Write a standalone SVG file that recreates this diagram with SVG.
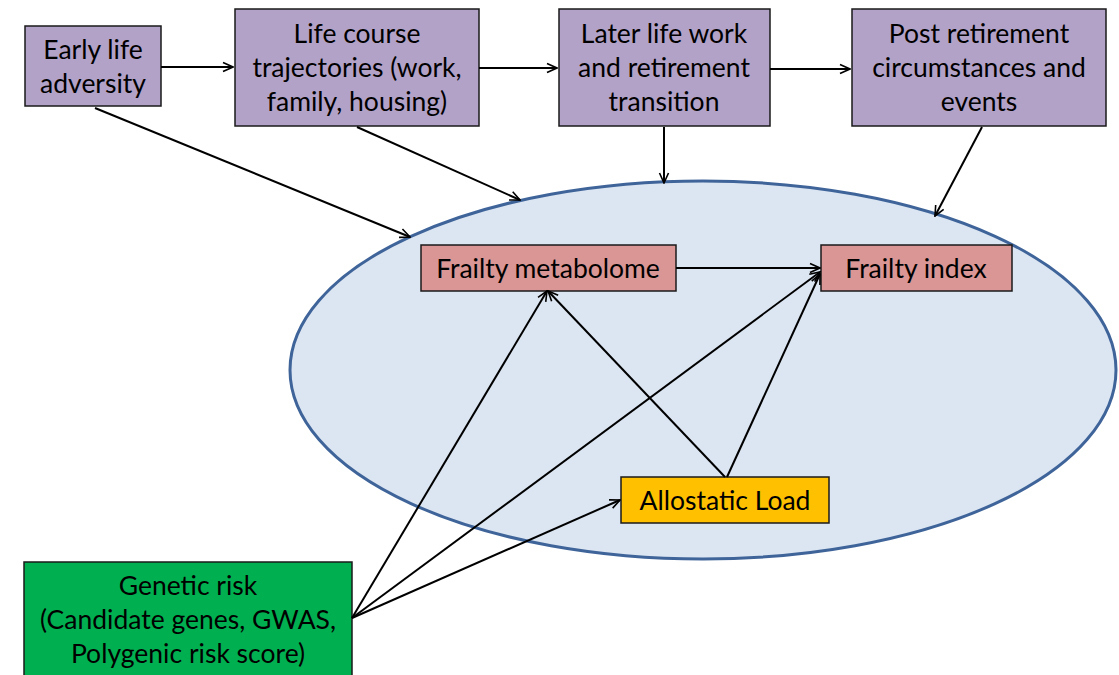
<svg xmlns="http://www.w3.org/2000/svg" width="1119" height="675" viewBox="0 0 1119 675">
<defs>
<marker id="arr" viewBox="0 0 12 12" refX="11" refY="6" markerWidth="12" markerHeight="12" markerUnits="userSpaceOnUse" orient="auto">
<polyline points="1,1.5 11,6 1,10.5" fill="none" stroke="#000" stroke-width="1.6"/>
</marker>
<style>
text{font-family:Lato,"Open Sans","Liberation Sans",sans-serif;font-size:26.5px;fill:#000;text-anchor:middle}
.box{stroke:#1a1a1a;stroke-width:1.5}
.p{fill:#b3a2c7}
.r{fill:#d99694}
.y{fill:#ffc000}
.g{fill:#00b050}
.c line{stroke:#000;stroke-width:2;marker-end:url(#arr)}
</style>
</defs>
<rect width="1119" height="675" fill="#fff"/>
<ellipse id="ellipse" cx="703" cy="370" rx="413" ry="189" fill="#dce6f2" stroke="#3f649a" stroke-width="3"/>
<g id="n1"><rect class="box p" x="25" y="26" width="136" height="80"/><text x="93" y="59">Early life</text><text x="93" y="93">adversity</text></g>
<g id="n2"><rect class="box p" x="235" y="9" width="244" height="117"/><text x="357" y="43">Life course</text><text x="357" y="77">trajectories (work,</text><text x="357" y="111">family, housing)</text></g>
<g id="n3"><rect class="box p" x="559" y="9" width="211" height="117"/><text x="664" y="43">Later life work</text><text x="664" y="77">and retirement</text><text x="664" y="111">transition</text></g>
<g id="n4"><rect class="box p" x="852" y="9" width="254" height="117"/><text x="979" y="43">Post retirement</text><text x="979" y="77">circumstances and</text><text x="979" y="111">events</text></g>
<g id="n5"><rect class="box r" x="421" y="245" width="255" height="46"/><text x="548" y="278">Frailty metabolome</text></g>
<g id="n6"><rect class="box r" x="821" y="245" width="191" height="46"/><text x="916" y="278">Frailty index</text></g>
<g id="n7"><rect class="box y" x="621" y="477" width="208" height="46"/><text x="725" y="510">Allostatic Load</text></g>
<g id="n8"><rect class="box g" x="24" y="562" width="328" height="120"/><text x="188" y="595">Genetic risk</text><text x="188" y="629">(Candidate genes, GWAS,</text><text x="188" y="663">Polygenic risk score)</text></g>
<g id="connectors" class="c">
<line x1="161" y1="67" x2="233" y2="67"/>
<line x1="479" y1="68" x2="557" y2="68"/>
<line x1="770" y1="69" x2="850" y2="69"/>
<line x1="95" y1="108" x2="410" y2="237"/>
<line x1="357" y1="127" x2="520" y2="200"/>
<line x1="664" y1="127" x2="664" y2="183"/>
<line x1="982" y1="127" x2="935" y2="216"/>
<line x1="676" y1="268" x2="820" y2="268"/>
<line x1="352" y1="618" x2="547" y2="291"/>
<line x1="352" y1="618" x2="820" y2="272"/>
<line x1="352" y1="618" x2="620" y2="500"/>
<line x1="725" y1="477" x2="548" y2="291"/>
<line x1="727" y1="477" x2="820" y2="274"/>
</g>
</svg>
